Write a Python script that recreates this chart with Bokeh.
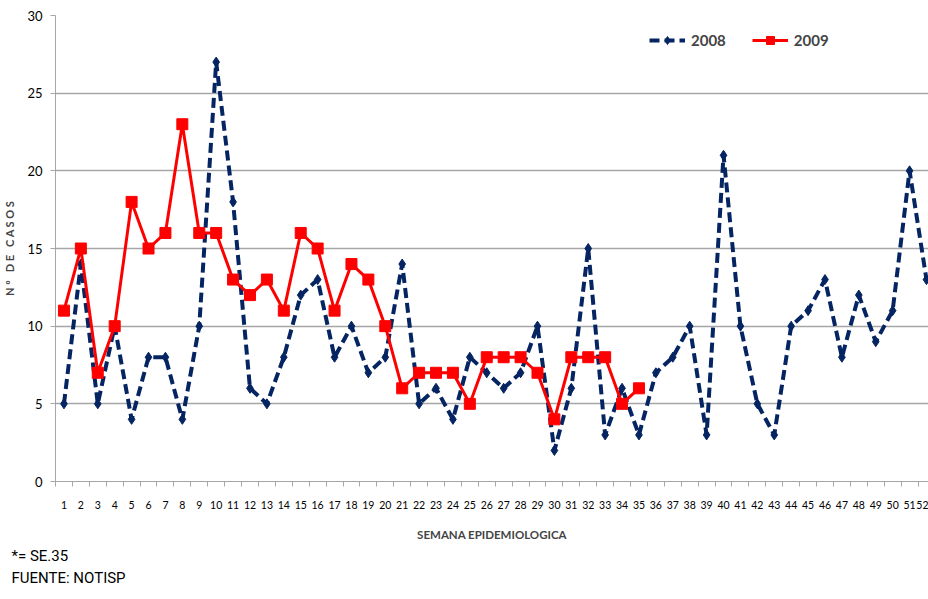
from bokeh.plotting import figure
from bokeh.models import Range1d, FixedTicker, Title
from bokeh.embed import file_html
from bokeh.resources import INLINE

weeks = list(range(1, 53))
cases_2008 = [5, 14, 5, 10, 4, 8, 8, 4, 10, 27, 18, 6, 5, 8, 12, 13, 8, 10, 7, 8,
              14, 5, 6, 4, 8, 7, 6, 7, 10, 2, 6, 15, 3, 6, 3, 7, 8, 10, 3, 21,
              10, 5, 3, 10, 11, 13, 8, 12, 9, 11, 20, 13]
weeks_2009 = list(range(1, 36))
cases_2009 = [11, 15, 7, 10, 18, 15, 16, 23, 16, 16, 13, 12, 13, 11, 16, 15, 11, 14, 13, 10,
              6, 7, 7, 7, 5, 8, 8, 8, 7, 4, 8, 8, 8, 5, 6]
y_ticks = [0, 5, 10, 15, 20, 25, 30]

NAVY = "#052462"
RED = "#ff0000"
GRID = "#a6a6a6"
FONT = "Lato"
NB = "\u00a0"

p = figure(width=928, height=596, x_range=Range1d(0.5, 52.12), y_range=Range1d(0, 30),
           output_backend="svg", toolbar_location=None,
           min_border_left=53, min_border_right=0, min_border_top=15, min_border_bottom=115)
p.outline_line_color = None
p.background_fill_color = "white"

# 2008
p.line(weeks, cases_2008, line_color=NAVY, line_width=4, line_dash="10 5", legend_label="2008")
p.scatter(weeks, cases_2008, marker="diamond", size=10, color=NAVY, legend_label="2008")
# 2009
p.line(weeks_2009, cases_2009, line_color=RED, line_width=3, legend_label="2009")
p.scatter(weeks_2009, cases_2009, marker="square", size=11, color=RED, legend_label="2009")

# axes
p.xaxis.ticker = FixedTicker(ticks=weeks, minor_ticks=[w - 0.5 for w in weeks] + [52.5])
p.xaxis.major_tick_out = 0
p.xaxis.major_tick_in = 0
p.xaxis.minor_tick_out = 5
p.xaxis.minor_tick_in = 0
p.xaxis.minor_tick_line_color = GRID
p.xaxis.axis_line_color = GRID
p.xaxis.major_label_standoff = 14
p.xaxis.major_label_text_font = FONT
p.xaxis.major_label_text_font_size = "10.5px"
p.xaxis.major_label_text_color = "black"
p.xaxis.axis_label = "SEMANA EPIDEMIOLOGICA"
p.xaxis.axis_label_text_font = FONT
p.xaxis.axis_label_text_font_size = "11.5px"
p.xaxis.axis_label_text_font_style = "bold"
p.xaxis.axis_label_standoff = 16

p.yaxis.ticker = FixedTicker(ticks=y_ticks)
p.yaxis.minor_tick_line_color = None
p.yaxis.major_tick_out = 5
p.yaxis.major_tick_in = 0
p.yaxis.major_tick_line_color = GRID
p.yaxis.axis_line_color = GRID
p.yaxis.major_label_standoff = 8
p.yaxis.major_label_text_font = FONT
p.yaxis.major_label_text_font_size = "13px"
p.yaxis.major_label_text_color = "black"
p.yaxis.axis_label = NB.join(["N", "º", NB, "D", "E", NB, "C", "A", "S", "O", "S"])
p.yaxis.axis_label_text_font = FONT
p.yaxis.axis_label_text_font_size = "11px"
p.yaxis.axis_label_text_font_style = "bold"
p.yaxis.axis_label_standoff = 8

p.xgrid.grid_line_color = None
p.ygrid.ticker = FixedTicker(ticks=y_ticks)
p.ygrid.grid_line_color = GRID
p.ygrid.grid_line_width = 1.3

# legend
leg = p.legend[0]
leg.orientation = "horizontal"
leg.location = (594, 431)
leg.padding = 0
leg.margin = 0
leg.spacing = 26
leg.glyph_width = 36
leg.glyph_height = 20
leg.label_standoff = 6
leg.label_text_font = FONT
leg.label_text_font_size = "15px"
leg.label_text_font_style = "bold"
leg.border_line_alpha = 0
leg.background_fill_alpha = 0

# footnotes
for txt in ["*= SE.35", "FUENTE: NOTISP"]:
    p.add_layout(Title(text=txt, align="left", offset=-44, standoff=2,
                       text_font="Roboto", text_font_size="15px",
                       text_font_style="normal", text_color="black"), "below")

open("out.html", "w").write(file_html(p, INLINE))
